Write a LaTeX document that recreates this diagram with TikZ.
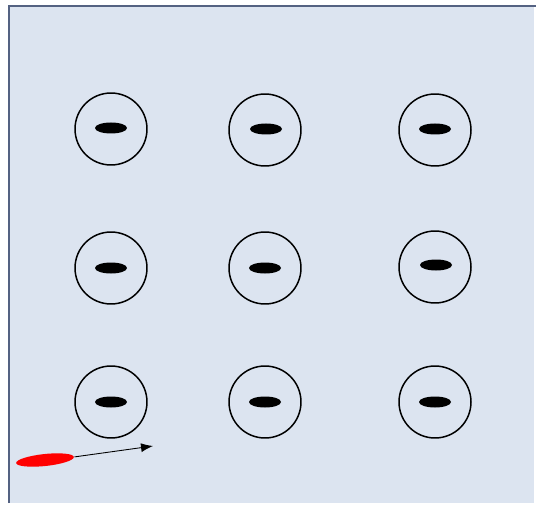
\documentclass[tikz,border=0pt]{standalone}
\usetikzlibrary{shapes.geometric, arrows.meta}
\definecolor{panel}{RGB}{220,228,240}
\definecolor{rim}{RGB}{84,98,130}
\begin{document}
\begin{tikzpicture}[x=0.02cm, y=-0.02cm, thick]
        \useasboundingbox (0,0) rectangle (536,506);
        % Background panel
        \fill[white] (0,0) rectangle (536,506);
        \fill[panel] (9,6) rectangle (534,503);
        \draw[rim, line width=1.2pt] (9,503) -- (9,6) -- (536,6);

        % Grid of circles with a bar in each
        \tikzset{cell/.style={draw, circle, line width=0.85pt, minimum size=1.44cm, inner sep=0pt},
                 bar/.style={ellipse, fill=black, minimum width=0.64cm, minimum height=0.22cm, inner sep=0pt}}
        \node[cell] (c11) at (111,129) {};
        \node[cell] (c12) at (265,130) {};
        \node[cell] (c13) at (435,130) {};
        \node[cell] (c21) at (111,268) {};
        \node[cell] (c22) at (265,268) {};
        \node[cell] (c23) at (435,267) {};
        \node[cell] (c31) at (111,402) {};
        \node[cell] (c32) at (265,402) {};
        \node[cell] (c33) at (435,402) {};
        \node[bar] (b11) at (111,128) {};
        \node[bar] (b12) at (266,129) {};
        \node[bar] (b13) at (435,129) {};
        \node[bar] (b21) at (111,268) {};
        \node[bar] (b22) at (265,268) {};
        \node[bar] (b23) at (436,265) {};
        \node[bar] (b31) at (111,402) {};
        \node[bar] (b32) at (265,402) {};
        \node[bar] (b33) at (435,402) {};

        % Red ellipse and its arrow
        \node[ellipse, fill=red, minimum width=1.16cm, minimum height=0.24cm, inner sep=0pt, rotate=6] (probe) at (45,460) {};
        \coordinate (tip) at (153,446);
        \draw[-{Latex[length=2.4mm, width=1.8mm]}, line width=0.5pt] (probe.east) -- (tip);
    \end{tikzpicture}
\end{document}
